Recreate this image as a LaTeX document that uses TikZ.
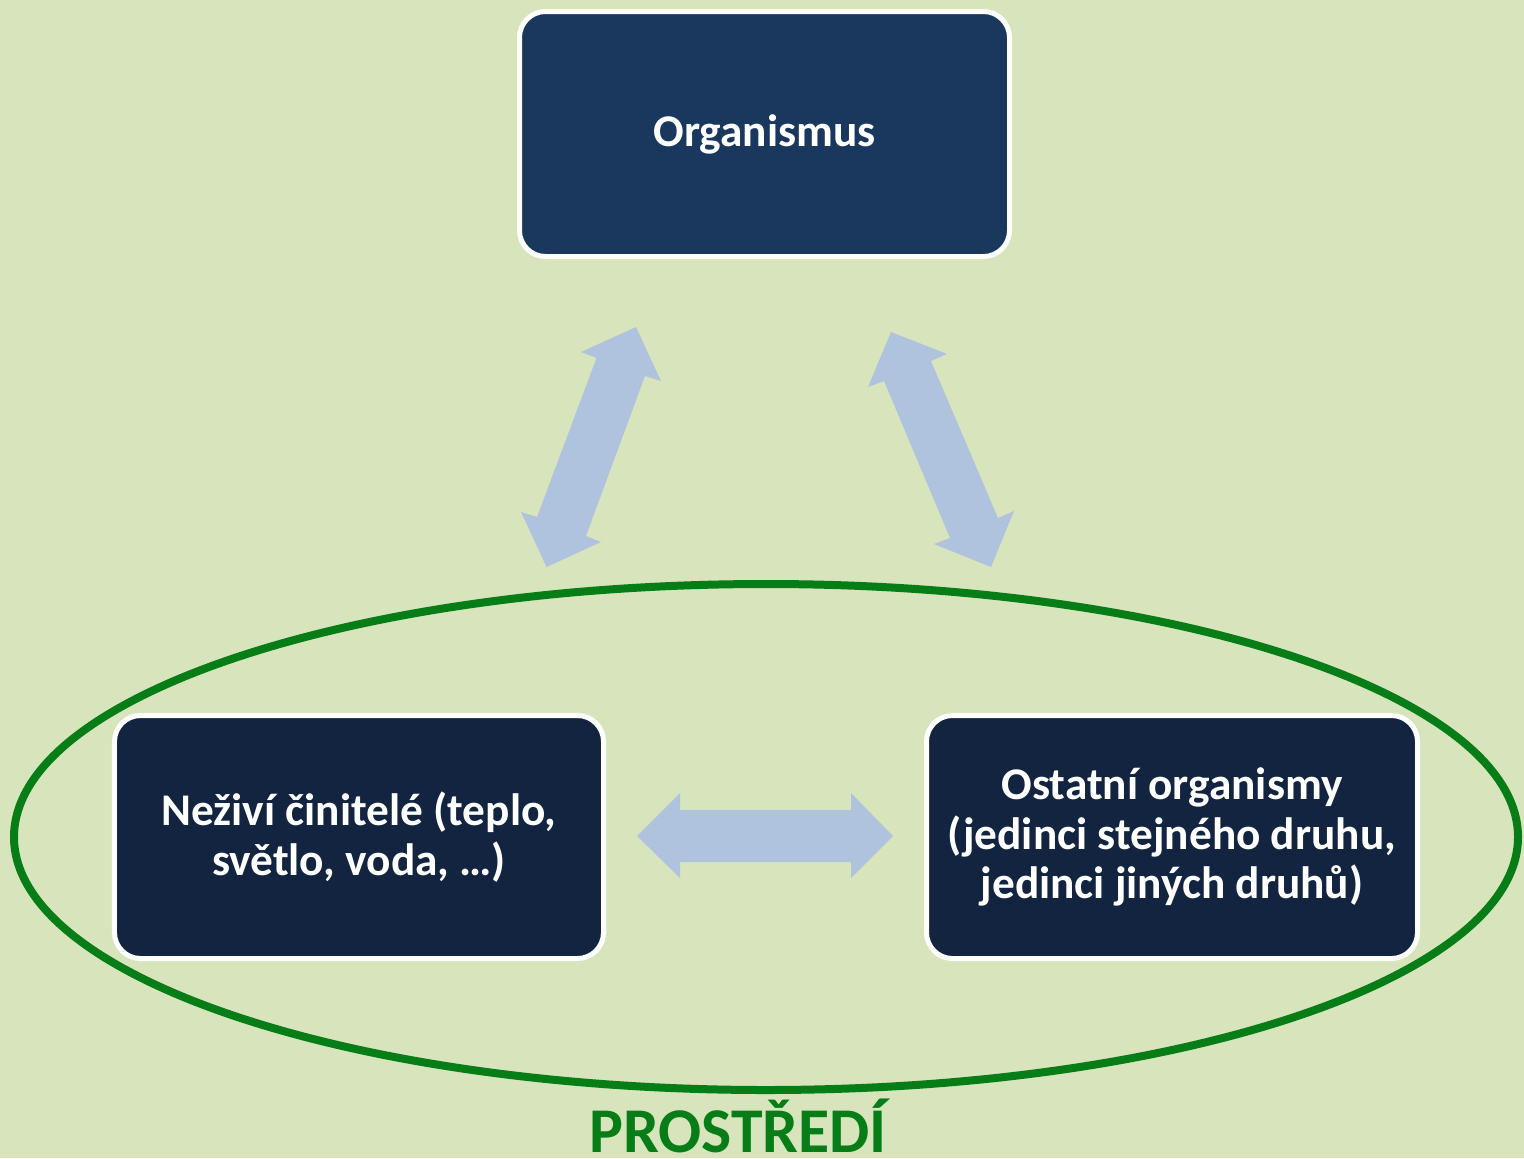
\documentclass[tikz,border=0pt]{standalone}
\usepackage{fontspec}
\setmainfont{Carlito}
\definecolor{bgc}{HTML}{D8E4BC}
\definecolor{topbox}{HTML}{1A375E}
\definecolor{lowbox}{HTML}{12243F}
\definecolor{arr}{HTML}{B0C3DE}
\definecolor{envgreen}{HTML}{067D16}
\begin{document}
\begin{tikzpicture}[x=1bp,y=-1bp,
  box/.style={rectangle, rounded corners=26bp, draw=white, line width=5bp,
    text=white, align=center, inner sep=0pt,
    font=\bfseries\fontsize{45.5}{49.5}\selectfont},
  blockarrow/.style={fill=arr, draw=none}]
\fill[bgc] (0,0) rectangle (1524,1158);
\useasboundingbox (0,0) rectangle (1524,1158);

% environment ellipse
\draw[envgreen, line width=8bp] (766,837) ellipse [x radius=752, y radius=253];

% boxes
\node[box, fill=topbox, minimum width=490bp, minimum height=245bp,
  font=\bfseries\fontsize{45.5}{54}\selectfont] (org) at (764.5,134) {Organismus};
\node[box, fill=lowbox, minimum width=489bp, minimum height=243bp] (abio) at (359,837)
  {Neživí činitelé (teplo,\\světlo, voda, …)};
\node[box, fill=lowbox, minimum width=491bp, minimum height=243bp] (bio) at (1172,837)
  {Ostatní organismy\\(jedinci stejného druhu,\\jedinci jiných druhů)};

% label
\node[anchor=base, text=envgreen, inner sep=0pt,
  font=\bfseries\fontsize{64}{70}\selectfont] (env) at (738,1152) {PROSTŘEDÍ};

% block arrows
\fill[blockarrow] (636,327) -- (661,381) -- (645,376) -- (586,536) -- (601,542)
  -- (546.5,567) -- (521,512) -- (537,517) -- (596.5,358) -- (581,352) -- cycle;
\fill[blockarrow] (891,332) -- (947,354) -- (931,361) -- (998,518) -- (1014,511)
  -- (991,567) -- (934,544) -- (950,538) -- (884,381) -- (868,387) -- cycle;
\fill[blockarrow] (637,836) -- (680,793) -- (680,810) -- (851,810) -- (851,793)
  -- (893,836) -- (851,878) -- (851,862) -- (680,862) -- (680,878) -- cycle;
\end{tikzpicture}
\end{document}
